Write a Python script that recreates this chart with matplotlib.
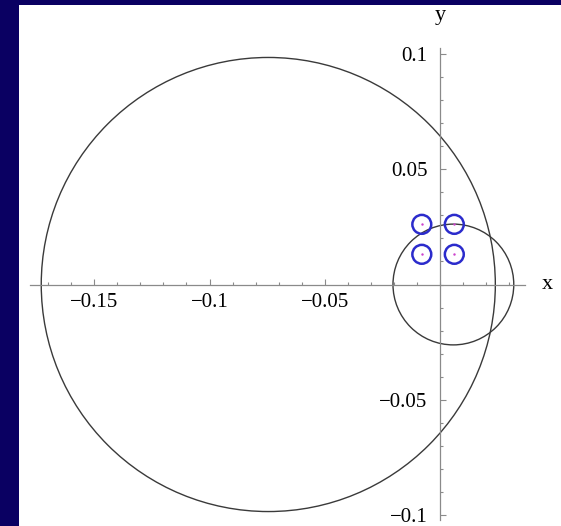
import numpy as np
import matplotlib
matplotlib.use("Agg")
import matplotlib.pyplot as plt
from matplotlib.patches import Circle

# Kreise (Mittelpunkt x, y, Radius)
big_circle = (-0.0745, 0.0, 0.0985)
small_circle = (0.0058, 0.0, 0.0262)

# blaue Kreise um die Punkte
blue_x = [-0.0079, 0.0062, -0.0079, 0.0062]
blue_y = [0.0261, 0.0261, 0.0131, 0.0131]
blue_r = 0.0041

x_major = [-0.15, -0.1, -0.05]
x_labels = ["\u22120.15", "\u22120.1", "\u22120.05"]
y_major = [-0.1, -0.05, 0.05, 0.1]
y_labels = ["\u22120.1", "\u22120.05", "0.05", "0.1"]

plt.rcParams['font.family'] = ['Liberation Serif', 'DejaVu Serif']

W, H = 561, 526
fig = plt.figure(figsize=(W / 100, H / 100), dpi=100)
fig.patch.set_facecolor('#0a0062')

ax = fig.add_axes([19 / W, 0, (W - 19) / W, (H - 5) / H])
ax.set_facecolor('white')
ax.set_xlim(-0.18265, 0.05249)
ax.set_ylim(-0.10477, 0.12126)

for s in ['top', 'right']:
    ax.spines[s].set_visible(False)
ax.spines['left'].set_position(('data', 0))
ax.spines['bottom'].set_position(('data', 0))
ax.spines['left'].set_bounds(-0.102, 0.1026)
ax.spines['bottom'].set_bounds(-0.178, 0.037)
for s in ['left', 'bottom']:
    ax.spines[s].set_color('#8a8a8a')
    ax.spines[s].set_linewidth(0.9)

ax.set_xticks(x_major)
ax.set_xticklabels(x_labels)
ax.set_yticks(y_major)
ax.set_yticklabels(y_labels)
ax.set_xticks(np.arange(-0.17, 0.031, 0.01), minor=True)
ax.set_yticks(np.arange(-0.1, 0.101, 0.01), minor=True)
ax.tick_params(which='both', direction='in', color='#8a8a8a', width=0.8)
ax.tick_params(which='major', length=4, labelsize=15)
ax.tick_params(which='minor', length=2.5)
ax.tick_params(axis='x', which='major', pad=6)
ax.tick_params(axis='y', which='major', pad=9)

# Kreise zeichnen
for cx, cy, r in [big_circle, small_circle]:
    ax.add_patch(Circle((cx, cy), r, fill=False, color='#3a3a3a', lw=1.0))
for bx, by in zip(blue_x, blue_y):
    ax.add_patch(Circle((bx, by), blue_r, fill=False, color='#2b2bcc', lw=1.8))
ax.plot(blue_x, blue_y, '.', color='#cc44cc', markersize=1.5)

ax.text(0.0465, 0.0, 'x', fontsize=16, ha='center', va='center')
ax.text(0.0002, 0.1165, 'y', fontsize=16, ha='center', va='center')

fig.savefig('out.png', dpi=100, facecolor=fig.get_facecolor())
